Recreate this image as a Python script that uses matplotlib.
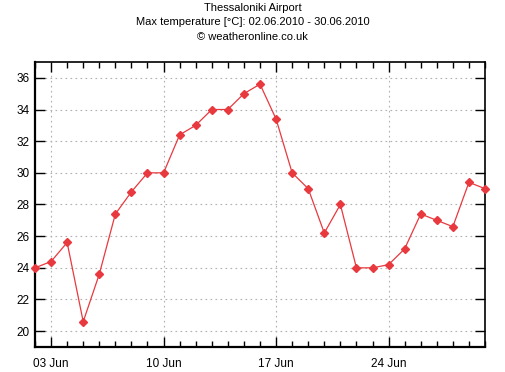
import numpy as np
import matplotlib.pyplot as plt
from matplotlib.ticker import FixedLocator, MultipleLocator

plt.rcParams['font.family'] = ['Liberation Sans', 'DejaVu Sans']

# day of June 2010
days = list(range(2, 31))
tmax = [24.0, 24.4, 25.6, 20.6, 23.6, 27.4, 28.8, 30.0, 30.0, 32.4,
        33.0, 34.0, 34.0, 35.0, 35.6, 33.4, 30.0, 29.0, 26.2, 28.0,
        24.0, 24.0, 24.2, 25.2, 27.4, 27.0, 26.6, 29.4, 29.0]
xtick_pos = [3, 10, 17, 24]
xtick_lab = ['03 Jun', '10 Jun', '17 Jun', '24 Jun']
ytick_pos = [20, 22, 24, 26, 28, 30, 32, 34, 36]

fig = plt.figure(figsize=(5.05, 3.72), dpi=100)
ax = fig.add_axes([35/505, 25/372, 450/505, 285/372])

ax.plot(days, tmax, color='#e8393f', lw=0.9, marker='D', ms=4.2,
        mec='#e8393f', mfc='#e8393f', zorder=3, clip_on=False)

ax.set_xlim(2, 30)
ax.set_ylim(19, 37)
ax.xaxis.set_major_locator(FixedLocator(xtick_pos))
ax.set_xticklabels(xtick_lab)
ax.xaxis.set_minor_locator(MultipleLocator(1))
ax.set_yticks(ytick_pos)

ax.grid(True, which='major', color='#b0b0b0', linestyle=(0, (1.5, 3)), lw=0.8)
ax.tick_params(axis='both', which='major', direction='in', length=7, width=1,
               labelsize=8.5, colors='black', top=True, right=True, pad=8)
ax.tick_params(axis='x', which='minor', direction='in', length=4, width=1,
               top=True)
ax.tick_params(axis='y', which='major', pad=4)
for side in ['left', 'bottom']:
    ax.spines[side].set_linewidth(1.6)
for side in ['top', 'right']:
    ax.spines[side].set_linewidth(1.2)

fig.text(0.5, 1 - 8/372, 'Thessaloniki Airport', ha='center', va='center', fontsize=8)
fig.text(0.5, 1 - 22/372, 'Max temperature [°C]: 02.06.2010 - 30.06.2010',
         ha='center', va='center', fontsize=8)
fig.text(0.5, 1 - 37/372, '© weatheronline.co.uk', ha='center', va='center', fontsize=8)

fig.savefig('out.png', dpi=100)
